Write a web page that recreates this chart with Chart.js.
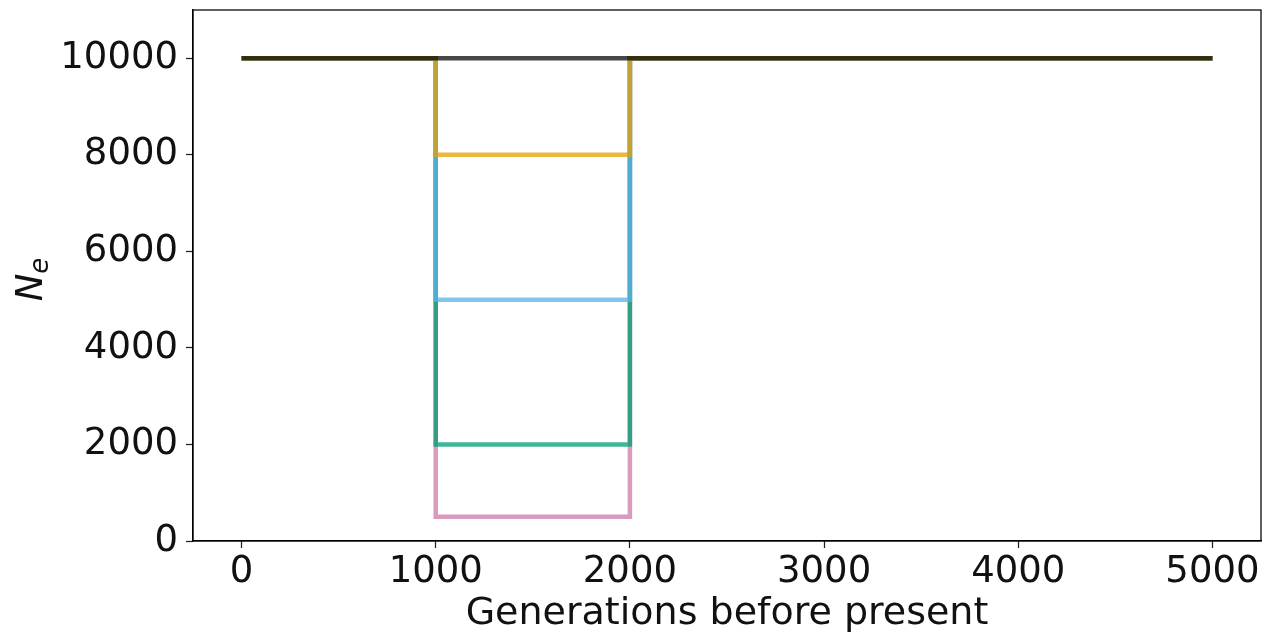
<!DOCTYPE html>
<html>
<head>
<meta charset="utf-8">
<script src="https://cdn.jsdelivr.net/npm/chart.js@4.4.1/dist/chart.umd.min.js"></script>
<style>
  html, body { margin: 0; padding: 0; background: #fff; }
  #wrap { width: 1275px; height: 641px; }
</style>
</head>
<body>
<div id="wrap"><canvas id="ne-chart" width="1275" height="641"></canvas></div>
<script>
// Generations at which the population size changes (step points)
const generations = [0, 1000, 2000, 5000];

// Ne history for each scenario (bottleneck between 1000 and 2000 generations)
const neConstant = [10000, 10000, 10000, 10000];
const neBottle8000 = [10000, 8000, 10000, 10000];
const neBottle5000 = [10000, 5000, 10000, 10000];
const neBottle2000 = [10000, 2000, 10000, 10000];
const neBottle500 = [10000, 500, 10000, 10000];

const xTickValues = [0, 1000, 2000, 3000, 4000, 5000];
const yTickValues = [0, 2000, 4000, 6000, 8000, 10000];

const seriesList = [neConstant, neBottle8000, neBottle5000, neBottle2000, neBottle500];
const lineColors = [
  'rgba(0,0,0,0.72)',
  'rgba(230,159,0,0.75)',
  'rgba(86,180,233,0.75)',
  'rgba(0,158,115,0.75)',
  'rgba(204,121,167,0.75)'
];

const FONT = 'DejaVu Sans';
const TEXT = '#111';

// first dataset ends up on top (Chart.js draws in reverse index order)
const datasets = seriesList.map((vals, i) => ({
  data: generations.map((g, j) => ({ x: g, y: vals[j] })),
  borderColor: lineColors[i],
  borderWidth: 4.5,
  stepped: 'before',
  pointRadius: 0,
  fill: false,
  borderCapStyle: 'butt',
  borderJoinStyle: 'miter'
}));

// full box around the plot area
const frame = {
  id: 'frame',
  afterDraw(chart) {
    const { ctx, chartArea: a } = chart;
    ctx.save();
    ctx.strokeStyle = '#000';
    ctx.lineWidth = 1.25;
    ctx.strokeRect(a.left, a.top, a.right - a.left, a.bottom - a.top);
    ctx.restore();
  }
};

// y axis title: italic N with subscript e, rotated
const neTitle = {
  id: 'neTitle',
  afterDraw(chart) {
    const { ctx, chartArea: a } = chart;
    ctx.save();
    ctx.translate(42, (a.top + a.bottom) / 2 + 4);
    ctx.rotate(-Math.PI / 2);
    ctx.fillStyle = TEXT;
    ctx.textBaseline = 'alphabetic';
    ctx.font = 'oblique 37px "' + FONT + '"';
    const nw = ctx.measureText('N').width;
    ctx.font = 'oblique 26px "' + FONT + '"';
    const ew = ctx.measureText('e').width;
    const start = -(nw + ew) / 2;
    ctx.font = 'oblique 37px "' + FONT + '"';
    ctx.fillText('N', start, 0);
    ctx.font = 'oblique 26px "' + FONT + '"';
    ctx.fillText('e', start + nw, 6);
    ctx.restore();
  }
};

const plainTick = v => String(v);

new Chart(document.getElementById('ne-chart'), {
  type: 'line',
  data: { datasets },
  options: {
    responsive: false,
    animation: false,
    layout: { padding: { top: 10, right: 14, left: 0, bottom: 0 } },
    plugins: { legend: { display: false }, tooltip: { enabled: false } },
    scales: {
      x: {
        type: 'linear',
        min: -250,
        max: 5250,
        afterBuildTicks: s => { s.ticks = xTickValues.map(v => ({ value: v })); },
        afterFit: s => { s.height = 100; s.paddingLeft = 0; s.paddingRight = 0; },
        grid: { display: true, drawOnChartArea: false, drawTicks: true, tickLength: 7, tickColor: '#222', tickWidth: 1.25 },
        border: { display: true, color: '#000', width: 1.25 },
        ticks: { color: TEXT, font: { family: FONT, size: 37 }, padding: 2, maxRotation: 0, callback: plainTick },
        title: { display: true, text: 'Generations before present', color: TEXT, font: { family: FONT, size: 38 }, padding: { top: 0, bottom: 4 } }
      },
      y: {
        type: 'linear',
        min: 0,
        max: 11000,
        afterBuildTicks: s => { s.ticks = yTickValues.map(v => ({ value: v })); },
        afterFit: s => { s.width = 193; s.paddingTop = 0; s.paddingBottom = 0; },
        grid: { display: true, drawOnChartArea: false, drawTicks: true, tickLength: 7, tickColor: '#222', tickWidth: 1.25 },
        border: { display: true, color: '#000', width: 1.25 },
        ticks: { color: TEXT, font: { family: FONT, size: 37 }, padding: 8, callback: plainTick }
      }
    }
  },
  plugins: [frame, neTitle]
});
</script>
</body>
</html>
